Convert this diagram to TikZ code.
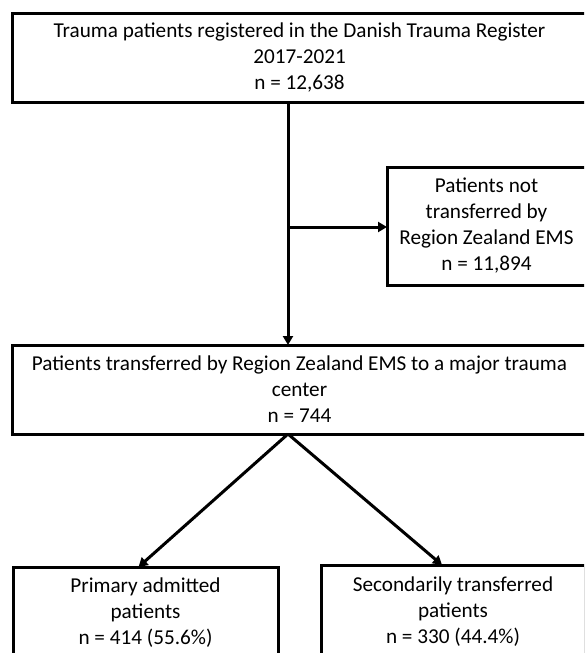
\documentclass[tikz,border=0pt]{standalone}
\usepackage{fontspec}
\setmainfont{Carlito}
\usetikzlibrary{arrows.meta,positioning,calc}

\begin{document}
\begin{tikzpicture}[x=1pt,y=-1pt,
      font=\fontsize{21.2}{26}\selectfont,
      box/.style={draw,line width=3pt,align=center,inner sep=0pt,outer sep=0pt,anchor=north west},
      arr/.style={line width=3pt,-{Triangle[length=9pt,width=10pt]}}]
    \clip (0,0) rectangle (584,653);
    \node[box,minimum width=575pt,minimum height=89pt] (reg) at (12,13)
      {Trauma patients registered in the Danish Trauma Register\\2017-2021\\n = 12,638};
    \node[box,minimum width=199pt,minimum height=118pt] (excl) at (387,167)
      {Patients not\\transferred by\\Region Zealand EMS\\n = 11,894};
    \node[box,minimum width=575pt,minimum height=89pt] (ems) at (12,345)
      {Patients transferred by Region Zealand EMS to a major trauma\\center\\n = 744};
    \node[box,minimum width=265pt,minimum height=92pt] (prim) at (13,567)
      {Primary admitted\\patients\\n = 414 (55.6\%)};
    \node[box,minimum width=264pt,minimum height=94pt] (sec) at (321,565)
      {Secondarily transferred\\patients\\n = 330 (44.4\%)};
    \coordinate (split) at (288,227);
    \coordinate (fork) at (ems.south -| split);
    \draw[arr] (reg.south -| split) -- (ems.north -| split);
    \draw[arr] (split) -- (split -| excl.west);
    \draw[arr] (fork) -- ($(prim.north)+(-7,0)$);
    \draw[arr] (fork) -- ($(sec.north)+(-11,0)$);
  \end{tikzpicture}
\end{document}
